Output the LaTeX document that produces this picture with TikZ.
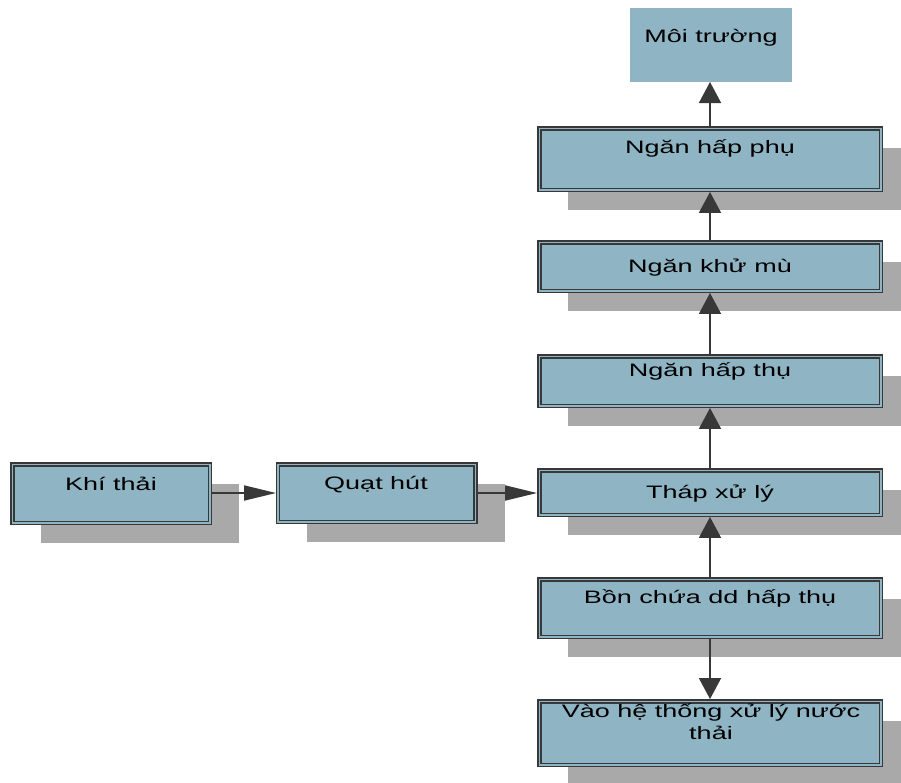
\documentclass[tikz,border=0pt]{standalone}
\usepackage{fontspec}
\newfontfamily\boxfont{Liberation Sans}[FakeStretch=1.5]
\usetikzlibrary{arrows.meta,shadows}
\definecolor{boxfill}{HTML}{8FB4C4}
\definecolor{shadowgray}{HTML}{A9A9A9}
\definecolor{edgedark}{HTML}{383838}
\tikzset{
  procbox/.style={rectangle, fill=boxfill, draw=edgedark, line width=1.5pt,
    double=boxfill, double distance=1.5pt, inner sep=0pt, outer sep=2.2pt,
    drop shadow={shadow xshift=29pt, shadow yshift=-20pt, fill=shadowgray, opacity=1}},
  plainbox/.style={rectangle, fill=boxfill, draw=none, inner sep=0pt, outer sep=0pt},
  lbl/.style={anchor=base, inner sep=0pt, font=\boxfont\fontsize{18}{22}\selectfont, text=black},
  flowv/.style={draw=edgedark, line width=1.8pt, -{Triangle[length=21pt,width=22pt]}},
  flowh/.style={draw=edgedark, line width=1.8pt, -{Triangle[length=32pt,width=15pt]}}
}
\begin{document}
\begin{tikzpicture}[x=1pt, y=-1pt]
  \useasboundingbox (0,0) rectangle (901,782);
  \begin{scope}
    \clip (0,0) rectangle (901,782);
    % right-hand column of process stages
    \node[plainbox, minimum width=162pt, minimum height=74pt] (mt) at (711,45) {};
    \node[procbox, minimum width=341.5pt, minimum height=61.5pt] (hp) at (710,159) {};
    \node[procbox, minimum width=341.5pt, minimum height=48.5pt] (km) at (710,266.5) {};
    \node[procbox, minimum width=341.5pt, minimum height=49.5pt] (ht) at (710,381) {};
    \node[procbox, minimum width=341.5pt, minimum height=44.5pt] (th) at (710,492.5) {};
    \node[procbox, minimum width=341.5pt, minimum height=57.5pt] (bc) at (710,608) {};
    \node[procbox, minimum width=341.5pt, minimum height=63.5pt] (vh) at (710,733) {};
    % inlet stages
    \node[procbox, minimum width=197.5pt, minimum height=58.5pt] (kt) at (111,493.5) {};
    \node[procbox, minimum width=197.5pt, minimum height=57.5pt] (qh) at (276,493) [anchor=west] {};
  \end{scope}

  % labels
  \node[lbl] (tmt) at (711,42) {Môi trường};
  \node[lbl] (thp) at (710,153) {Ngăn hấp phụ};
  \node[lbl] (tkm) at (710,272) {Ngăn khử mù};
  \node[lbl] (tht) at (710,376) {Ngăn hấp thụ};
  \node[lbl] (tth) at (710,498) {Tháp xử lý};
  \node[lbl] (tbc) at (710,603) {Bồn chứa dd hấp thụ};
  \node[lbl, align=center] (tvh) at (711,739) {Vào hệ thống xử lý nước\\thải};
  \node[lbl] (tkt) at (111,490) {Khí thải};
  \node[lbl] (tqh) at (376,489) {Quạt hút};

  % connectors
  \draw[flowh] (kt.east |- qh.west) -- (qh.west);
  \draw[flowh] (qh.east) -- (qh.east -| th.west);
  \draw[flowv] (bc.north) -- (th.south);
  \draw[flowv] (th.north) -- (ht.south);
  \draw[flowv] (ht.north) -- (km.south);
  \draw[flowv] (km.north) -- (hp.south);
  \draw[flowv] (hp.north) -- (hp.north |- mt.south);
  \draw[flowv] (bc.south) -- (vh.north);
\end{tikzpicture}
\end{document}
